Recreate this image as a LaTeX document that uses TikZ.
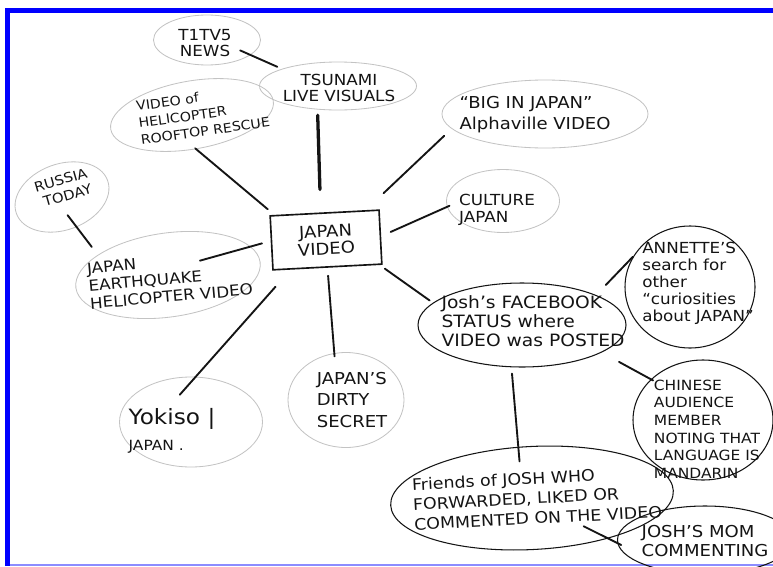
\documentclass[tikz,border=0pt]{standalone}
\usepackage{fontspec}
\setmainfont{DejaVu Sans}[FakeStretch=1.1]
\usetikzlibrary{shapes.geometric}
\definecolor{frameblue}{RGB}{0,0,255}
\definecolor{edgeblue}{RGB}{140,140,255}
\definecolor{pencil}{RGB}{195,195,195}
\definecolor{ink}{RGB}{20,20,20}

\begin{document}
\begin{tikzpicture}[x=0.3mm,y=-0.3mm,
  idea/.style={ellipse,draw=pencil,line width=0.7pt,inner sep=0pt},
  hot/.style={ellipse,draw=ink,line width=0.9pt,inner sep=0pt},
  txt/.style 2 args={text=ink,align=left,inner sep=1pt,
                     font=\fontsize{#1}{#2}\selectfont},
  link/.style={draw=ink,line width=1.6pt,line cap=round}
]
  \useasboundingbox (0,0) rectangle (773,566);
  \fill[white] (0,0) rectangle (773,566);
  \clip (0,0) rectangle (773,566);
  % frame of the photo
  \fill[frameblue] (5,8) rectangle (773,13);
  \fill[frameblue] (5,8) rectangle (10,566);
  \fill[edgeblue] (10,564) rectangle (773,566);

  % centre
  \node[draw=ink,line width=1.4pt,minimum width=32.7mm,minimum height=16.2mm,
        rotate=3,txt={14}{15},align=center] (vid) at (326,240) {JAPAN\\VIDEO};

  % outlines
  \node[idea,minimum width=32.1mm,minimum height=15mm] (news) at (207,40) {};
  \node[idea,minimum width=47.1mm,minimum height=14.4mm] (tsu) at (338,86) {};
  \node[idea,minimum width=49.5mm,minimum height=20.4mm,rotate=10] (heli) at (192,115) {};
  \node[idea,minimum width=29.1mm,minimum height=19.8mm,rotate=20] (rus) at (62,197) {};
  \node[idea,minimum width=55.8mm,minimum height=25.2mm,rotate=8] (quake) at (168,275) {};
  \node[idea,minimum width=42.9mm,minimum height=27mm] (yok) at (191,422) {};
  \node[idea,minimum width=34.8mm,minimum height=28.5mm] (dirty) at (346,400) {};
  \node[idea,minimum width=61.8mm,minimum height=20.4mm] (big) at (545,114) {};
  \node[idea,minimum width=33.9mm,minimum height=18.9mm] (cult) at (503,201) {};
  \node[hot,minimum width=62.4mm,minimum height=25.2mm] (fb) at (522,325) {};
  \node[hot,minimum width=39mm,minimum height=36.6mm] (ann) at (690,287) {};
  \node[hot,minimum width=42mm,minimum height=36mm] (chn) at (703,420) {};
  \node[hot,minimum width=84.9mm,minimum height=30.9mm,rotate=3] (frd) at (532,498) {};
  \node[hot,minimum width=52.5mm,minimum height=20.4mm] (mom) at (705,540) {};

  % texts
  \node[txt={13}{13},align=center] (newsT) at (205,43) {T1TV5\\NEWS};
  \node[txt={13}{14},align=center] (tsuT) at (339,88) {TSUNAMI\\LIVE VISUALS};
  \node[txt={11}{14.5},rotate=8] (heliT) at (203,114) {VIDEO of\\HELICOPTER\\ROOFTOP RESCUE};
  \node[txt={11.5}{14},rotate=16] (rusT) at (63,188) {RUSSIA\\\ TODAY};
  \node[txt={13}{15},rotate=5] (quakeT) at (170,279) {JAPAN\\EARTHQUAKE\\HELICOPTER VIDEO};
  \node[txt={12}{22}] (yokT) at (172,431) {{\fontsize{18}{20}\selectfont Yokiso |}\\JAPAN .};
  \node[txt={14}{18}] (dirtyT) at (352,400) {JAPAN'S\\DIRTY\\SECRET};
  \node[txt={14}{18}] (bigT) at (535,115) {“BIG IN JAPAN”\\Alphaville VIDEO};
  \node[txt={13}{15}] (cultT) at (497,210) {CULTURE\\JAPAN};
  \node[txt={14.5}{16}] (fbT) at (533,321) {Josh's FACEBOOK\\STATUS where\\VIDEO was POSTED};
  \node[txt={13}{14.5}] (annT) at (698,283) {ANNETTE'S\\search for\\other\\“curiosities\\about JAPAN”};
  \node[txt={12}{15}] (chnT) at (707,429) {CHINESE\\AUDIENCE\\MEMBER\\NOTING THAT\\LANGUAGE IS\\MANDARIN};
  \node[txt={13.5}{17},rotate=3] (frdT) at (537,498) {Friends of JOSH WHO\\FORWARDED, LIKED OR\\COMMENTED ON THE VIDEO};
  \node[txt={14}{17}] (momT) at (705,541) {JOSH'S MOM\\COMMENTING};

  % links
  \draw[link,shorten <=-3.4mm,shorten >=1.5mm] (news.-19) -- (tsu.163);
  \draw[link,line width=2.8pt,shorten <=1.7mm,shorten >=6.9mm] (tsu.-131) -- (vid.98);
  \draw[link,shorten <=-0.4mm,shorten >=2.6mm] (heli.-93) -- (vid.151);
  \draw[link,shorten <=-4.5mm,shorten >=3mm] (rus.-84) -- (quake.156);
  \draw[link,shorten <=2.7mm,shorten >=-15.8mm] (vid.178) -- (quake.11);
  \draw[link,shorten <=6.8mm,shorten >=-7.2mm] (vid.-143) -- (yok.84);
  \draw[link,shorten <=2.4mm,shorten >=-1mm] (vid.-90) -- (dirty.104);
  \draw[link,shorten <=7.4mm,shorten >=3.1mm] (vid.34) -- (big.189);
  \draw[link,shorten <=3.1mm,shorten >=-0.8mm] (vid.1) -- (cult.186);
  \draw[link,shorten <=1.9mm,shorten >=1.2mm] (vid.-28) -- (fb.166);
  \draw[link,shorten <=4.2mm] (fb.22) -- (ann.152);
  \draw[link,shorten <=5.9mm,shorten >=-0.75mm] (fb.-19) -- (chn.142);
  \draw[link,shorten <=1.9mm,shorten >=-4.4mm] (fb.-104) -- (frd.102);
  \draw[link,shorten <=-8.2mm,shorten >=-1.3mm] (frd.-31) -- (mom.182);
\end{tikzpicture}
\end{document}
